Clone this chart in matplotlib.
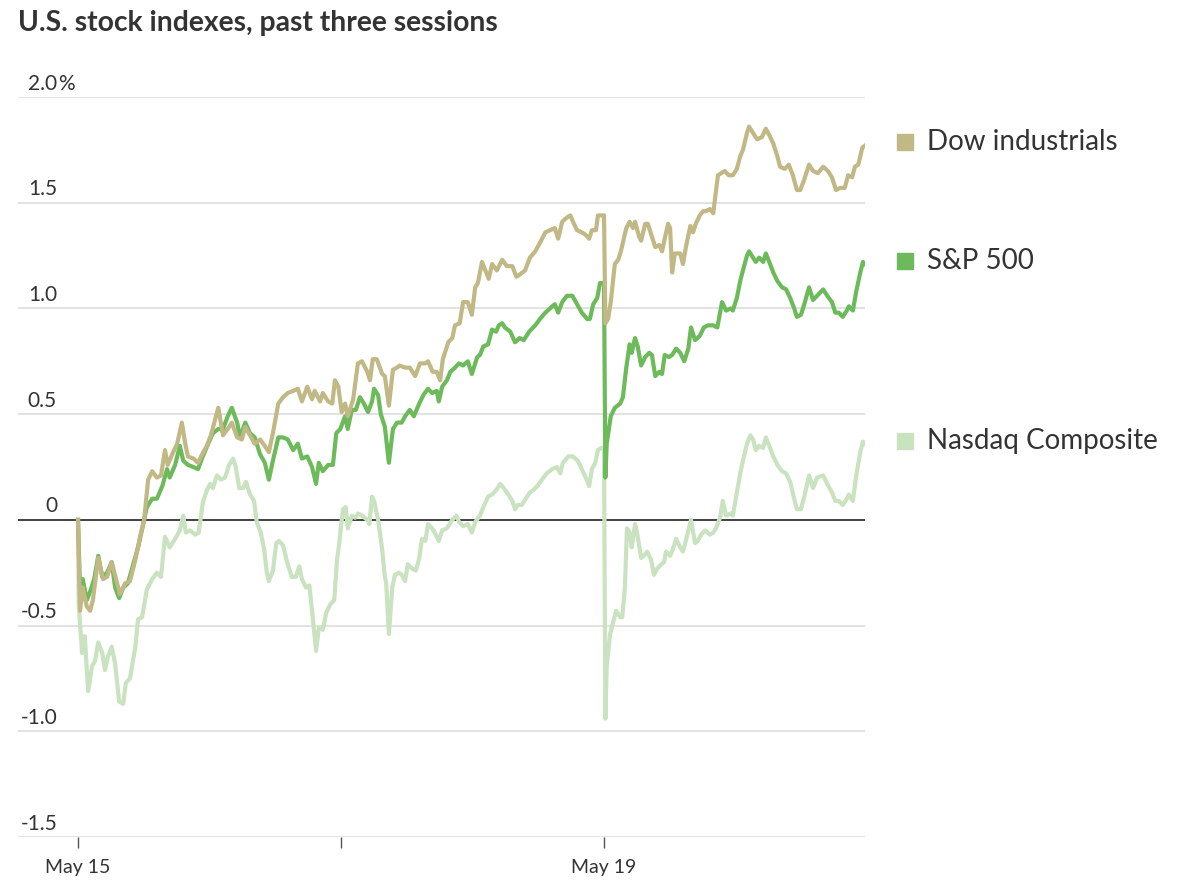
import matplotlib
matplotlib.use("Agg")
import matplotlib.pyplot as plt

plt.rcParams['font.family'] = ['Lato', 'DejaVu Sans']

# minutes of trading since May 15 open (390 minutes per session, sessions back to back)
dow_min = [0, 3, 7, 13, 18, 22, 30, 37, 43, 50, 58, 62, 70, 77, 85, 92, 98, 104, 110, 117,
           123, 129, 133, 141, 147, 154, 159, 163, 171, 178, 184, 191, 197, 208, 215, 222, 228, 236, 243, 248,
           255, 262, 270, 277, 283, 289, 297, 304, 311, 319, 326, 332, 340, 347, 351, 359, 363, 371, 377, 381,
           386, 391, 396, 400, 408, 415, 421, 429, 433, 437, 443, 451, 455, 461, 467, 473, 477, 485, 492, 500,
           507, 515, 519, 526, 532, 537, 541, 549, 555, 559, 566, 571, 578, 584, 589, 593, 599, 604, 609, 614,
           621, 629, 636, 644, 650, 655, 663, 670, 678, 685, 693, 700, 707, 712, 718, 725, 730, 734, 740, 747,
           752, 758, 762, 768, 771, 777, 780,
           782, 786, 790, 796, 801, 805, 813, 818, 823, 826, 832, 835, 841, 845, 850, 856, 862, 866, 870, 875,
           878, 881, 885, 893, 897, 902, 908, 912, 916, 922, 927, 931, 937, 942, 945, 949, 954, 959, 965, 971,
           977, 982, 986, 992, 995, 1001, 1007, 1014, 1020, 1025, 1031, 1037, 1041, 1048, 1054, 1060, 1066, 1071,
           1077, 1084, 1090, 1097, 1105, 1112, 1118, 1124, 1130, 1137, 1142, 1148, 1152, 1157, 1163, 1167]
dow_pct = [0, -0.43, -0.32, -0.41, -0.43, -0.38, -0.18, -0.28, -0.27, -0.20, -0.30, -0.35, -0.30, -0.29, -0.19, -0.08, 0.0, 0.19, 0.23, 0.20,
           0.21, 0.33, 0.26, 0.32, 0.36, 0.46, 0.36, 0.30, 0.29, 0.27, 0.31, 0.35, 0.40, 0.53, 0.40, 0.43, 0.46, 0.39, 0.38, 0.44,
           0.40, 0.36, 0.38, 0.35, 0.32, 0.41, 0.55, 0.58, 0.60, 0.61, 0.62, 0.56, 0.63, 0.57, 0.61, 0.56, 0.60, 0.56, 0.55, 0.66,
           0.63, 0.51, 0.55, 0.49, 0.57, 0.74, 0.75, 0.70, 0.66, 0.76, 0.76, 0.69, 0.68, 0.54, 0.71, 0.72, 0.73, 0.72, 0.72, 0.68,
           0.74, 0.74, 0.75, 0.70, 0.70, 0.66, 0.76, 0.84, 0.86, 0.92, 0.93, 1.03, 1.03, 0.97, 1.10, 1.12, 1.22, 1.18, 1.14, 1.21,
           1.18, 1.23, 1.20, 1.20, 1.15, 1.16, 1.18, 1.24, 1.27, 1.31, 1.36, 1.37, 1.38, 1.33, 1.41, 1.43, 1.44, 1.41, 1.37, 1.36,
           1.35, 1.33, 1.37, 1.37, 1.44, 1.44, 1.44,
           0.93, 0.95, 1.03, 1.21, 1.23, 1.27, 1.38, 1.41, 1.38, 1.41, 1.34, 1.32, 1.40, 1.40, 1.35, 1.29, 1.30, 1.27, 1.33, 1.40,
           1.38, 1.17, 1.26, 1.26, 1.21, 1.30, 1.39, 1.36, 1.40, 1.44, 1.46, 1.46, 1.47, 1.45, 1.53, 1.63, 1.64, 1.65, 1.63, 1.63,
           1.66, 1.72, 1.75, 1.83, 1.86, 1.83, 1.80, 1.81, 1.85, 1.82, 1.78, 1.72, 1.67, 1.66, 1.68, 1.63, 1.56, 1.56,
           1.61, 1.68, 1.65, 1.64, 1.67, 1.65, 1.62, 1.56, 1.57, 1.57, 1.63, 1.62, 1.67, 1.68, 1.76, 1.77]

sp_min = [0, 3, 7, 13, 19, 24, 30, 36, 43, 50, 55, 61, 67, 74, 82, 89, 96, 102, 110, 117,
          125, 132, 136, 144, 151, 156, 163, 171, 178, 185, 193, 200, 208, 215, 222, 228, 236, 240, 248, 255,
          262, 270, 277, 283, 289, 297, 304, 311, 319, 326, 332, 340, 347, 353, 357, 363, 371, 378, 383, 389,
          396, 400, 406, 412, 418, 424, 430, 436, 439, 445, 449, 455, 461, 467, 473, 480, 485, 492, 498, 506,
          512, 519, 525, 532, 535, 540, 547, 552, 559, 565, 571, 578, 584, 592, 596, 601, 608, 614, 620, 624,
          629, 633, 641, 648, 655, 661, 669, 678, 685, 693, 700, 707, 712, 718, 725, 733, 740, 747, 755, 759,
          764, 770, 774, 777, 780,
          782, 784, 790, 796, 804, 808, 813, 818, 821, 826, 830, 835, 841, 847, 851, 856, 862, 866, 870, 876,
          881, 887, 893, 899, 905, 909, 915, 922, 928, 934, 942, 948, 955, 961, 968, 971, 977, 982, 986, 992,
          995, 1001, 1005, 1010, 1016, 1020, 1025, 1031, 1037, 1044, 1050, 1056, 1062, 1066, 1072, 1077, 1084,
          1090, 1096, 1105, 1111, 1118, 1123, 1128, 1134, 1140, 1143, 1149, 1154, 1160, 1164, 1167]
sp_pct = [0, -0.33, -0.28, -0.38, -0.33, -0.28, -0.17, -0.27, -0.25, -0.20, -0.32, -0.37, -0.32, -0.30, -0.21, -0.13, -0.03, 0.06, 0.10, 0.10,
          0.16, 0.24, 0.20, 0.26, 0.35, 0.28, 0.26, 0.25, 0.24, 0.30, 0.36, 0.41, 0.43, 0.43, 0.49, 0.53, 0.46, 0.39, 0.46, 0.41,
          0.39, 0.31, 0.27, 0.19, 0.28, 0.39, 0.39, 0.38, 0.33, 0.36, 0.29, 0.30, 0.25, 0.17, 0.27, 0.23, 0.26, 0.26, 0.41, 0.43,
          0.49, 0.43, 0.52, 0.52, 0.58, 0.55, 0.51, 0.56, 0.62, 0.59, 0.50, 0.44, 0.27, 0.43, 0.46, 0.46, 0.49, 0.52, 0.49, 0.55,
          0.59, 0.62, 0.60, 0.61, 0.56, 0.63, 0.66, 0.70, 0.72, 0.74, 0.73, 0.75, 0.69, 0.77, 0.78, 0.82, 0.83, 0.90, 0.89, 0.92,
          0.93, 0.91, 0.89, 0.84, 0.86, 0.85, 0.89, 0.92, 0.95, 0.98, 1.00, 1.02, 0.98, 1.03, 1.06, 1.06, 1.02, 0.98, 0.95, 0.95,
          1.02, 1.05, 1.12, 1.12, 1.12,
          0.20, 0.36, 0.49, 0.53, 0.55, 0.58, 0.72, 0.83, 0.79, 0.86, 0.82, 0.73, 0.77, 0.79, 0.78, 0.68, 0.70, 0.69, 0.78, 0.77,
          0.78, 0.81, 0.79, 0.75, 0.81, 0.91, 0.85, 0.87, 0.91, 0.92, 0.92, 0.91, 1.03, 0.99, 1.00, 0.99, 1.05, 1.13, 1.18, 1.25,
          1.27, 1.24, 1.22, 1.24, 1.22, 1.26, 1.22, 1.17, 1.13, 1.10, 1.09, 1.05, 1.00, 0.96, 0.97, 1.02, 1.10,
          1.04, 1.06, 1.09, 1.06, 1.03, 0.98, 0.98, 0.96, 0.99, 1.01, 0.99, 1.08, 1.17, 1.22, 1.21]

nasdaq_min = [0, 1, 6, 10, 15, 21, 25, 30, 36, 40, 44, 50, 55, 61, 67, 71, 77, 85, 89, 95,
              102, 110, 117, 123, 129, 136, 144, 151, 156, 160, 166, 174, 179, 185, 191, 196, 200, 206, 212, 218,
              224, 230, 234, 239, 245, 249, 255, 261, 265, 271, 276, 280, 283, 289, 294, 298, 304, 310, 317, 323,
              328, 332, 338, 343, 348, 353, 357, 363, 368, 374, 380, 384, 387, 390, 393, 397, 400, 406, 411, 415,
              421, 429, 432, 436, 439, 445, 451, 455, 457, 461, 466, 470, 476, 480, 485, 489, 495, 501, 506, 510,
              515, 519, 525, 529, 535, 540, 547, 555, 561, 565, 571, 578, 584, 589, 596, 601, 608, 614, 620, 626,
              629, 636, 644, 648, 652, 658, 664, 670, 675, 681, 688, 695, 703, 710, 715, 719, 727, 734, 741, 747,
              753, 758, 762, 767, 771, 776, 780,
              782, 784, 789, 793, 798, 804, 807, 811, 814, 818, 821, 826, 829, 835, 839, 844, 850, 854, 859, 865,
              869, 872, 878, 882, 887, 893, 897, 902, 909, 915, 919, 924, 930, 937, 942, 946, 952, 956, 961, 968,
              971, 977, 982, 986, 992, 997, 1001, 1005, 1010, 1016, 1020, 1025, 1031, 1037, 1044, 1050, 1056, 1062,
              1066, 1072, 1077, 1084, 1090, 1096, 1105, 1111, 1118, 1123, 1128, 1134, 1140, 1143, 1149, 1154, 1160,
              1164, 1167]
nasdaq_pct = [0, -0.40, -0.63, -0.55, -0.81, -0.69, -0.67, -0.58, -0.63, -0.71, -0.65, -0.60, -0.68, -0.86, -0.87, -0.77, -0.75, -0.60, -0.47, -0.46,
              -0.33, -0.28, -0.25, -0.27, -0.08, -0.13, -0.09, -0.05, 0.02, -0.06, -0.05, -0.07, -0.06, 0.08, 0.14, 0.17, 0.15, 0.21, 0.19, 0.20,
              0.26, 0.29, 0.25, 0.15, 0.15, 0.18, 0.12, 0.09, -0.01, -0.06, -0.14, -0.25, -0.29, -0.24, -0.11, -0.10, -0.12, -0.20, -0.27, -0.27,
              -0.22, -0.28, -0.32, -0.31, -0.46, -0.62, -0.51, -0.52, -0.44, -0.40, -0.38, -0.19, -0.12, -0.03, 0.05, 0.06, -0.04, 0.02, 0.01, 0.03,
              0.02, 0.00, -0.02, 0.11, 0.09, 0.00, -0.14, -0.27, -0.30, -0.54, -0.32, -0.26, -0.25, -0.26, -0.29, -0.21, -0.23, -0.24, -0.18, -0.09,
              -0.10, -0.02, -0.04, -0.06, -0.10, -0.05, -0.04, 0.00, 0.02, -0.01, -0.03, -0.02, -0.06, -0.01, 0.02, 0.06, 0.11, 0.12, 0.14, 0.17,
              0.16, 0.13, 0.09, 0.05, 0.07, 0.07, 0.10, 0.13, 0.14, 0.16, 0.19, 0.22, 0.24, 0.25, 0.22, 0.27, 0.30, 0.30, 0.28, 0.24,
              0.20, 0.16, 0.24, 0.27, 0.33, 0.34, 0.34,
              -0.94, -0.69, -0.54, -0.49, -0.43, -0.46, -0.46, -0.32, -0.04, -0.06, -0.13, -0.02, -0.06, -0.18, -0.17, -0.15, -0.19, -0.26, -0.23, -0.21,
              -0.20, -0.15, -0.17, -0.14, -0.09, -0.13, -0.15, -0.09, 0.00, -0.11, -0.10, -0.07, -0.05, -0.07, -0.06, -0.04, 0.01, 0.09, 0.02, 0.03,
              0.02, 0.13, 0.22, 0.28, 0.36, 0.40, 0.38, 0.33, 0.35, 0.34, 0.39, 0.35, 0.30, 0.26, 0.23, 0.22, 0.18, 0.10,
              0.05, 0.05, 0.11, 0.21, 0.15, 0.20, 0.21, 0.17, 0.13, 0.09, 0.09, 0.07, 0.10, 0.12, 0.09, 0.21, 0.32,
              0.37, 0.36]

names = ['Dow industrials', 'S&P 500', 'Nasdaq Composite']
colors = ['#c1b886', '#6cba5a', '#c9e2bf']
day_ticks = [0, 390, 780]
day_labels = ['May 15', '', 'May 19']
y_ticks = [-1.5, -1.0, -0.5, 0, 0.5, 1.0, 1.5, 2.0]
y_labels = ['-1.5', '-1.0', '-0.5', '0', '0.5', '1.0', '1.5', '2.0']

fig = plt.figure(figsize=(12, 8.88), dpi=100)
ax = fig.add_axes([18 / 1200, 1 - 837 / 888, 847 / 1200, 740 / 888])

ax.set_xlim(-89, 1167)
ax.set_ylim(-1.5, 2.0)

for y in y_ticks:
    if y == 0:
        ax.axhline(0, color='#333333', lw=1.3, zorder=3)
    else:
        ax.axhline(y, color='#dddddd', lw=1.2, zorder=1)

ax.plot(nasdaq_min, nasdaq_pct, color=colors[2], lw=3.0, zorder=4, solid_joinstyle='round')
ax.plot(sp_min, sp_pct, color=colors[1], lw=3.0, zorder=5, solid_joinstyle='round')
ax.plot(dow_min, dow_pct, color=colors[0], lw=3.0, zorder=6, solid_joinstyle='round')

for s in ['top', 'right', 'left', 'bottom']:
    ax.spines[s].set_visible(False)
ax.set_yticks([])
ax.set_xticks(day_ticks, day_labels)
ax.tick_params(axis='x', length=8, width=1, color='#555555', pad=8,
               labelsize=14, labelcolor='#333333')

# y labels sit above their gridlines, numbers right-aligned, % hangs out
ytr = ax.get_yaxis_transform()
lab_x = (57 - 18) / 847
for y, lab in zip(y_ticks, y_labels):
    ax.annotate(lab, xy=(lab_x, y), xycoords=ytr, xytext=(0, 2.5), textcoords='offset points',
                ha='right', va='bottom', fontsize=15, color='#333333')
ax.annotate('%', xy=(lab_x, 2.0), xycoords=ytr, xytext=(0.5, 2.5), textcoords='offset points',
            ha='left', va='bottom', fontsize=15, color='#333333')

# labels at the right end
ends = [dow_pct[-1], sp_pct[-1], nasdaq_pct[-1]]
for name, c, v in zip(names, colors, ends):
    ax.plot([1.047], [v + 0.015], marker='s', markersize=11.5, color=c, transform=ytr, clip_on=False)
    ax.text(1.073, v + 0.015, name, transform=ytr, ha='left', va='center', fontsize=20, color='#333333')

fig.text(18 / 1200, 1 - 23 / 888, 'U.S. stock indexes, past three sessions', ha='left', va='center',
         fontsize=20.3, fontweight='bold', color='#333333')

fig.savefig('out.png', dpi=100)
